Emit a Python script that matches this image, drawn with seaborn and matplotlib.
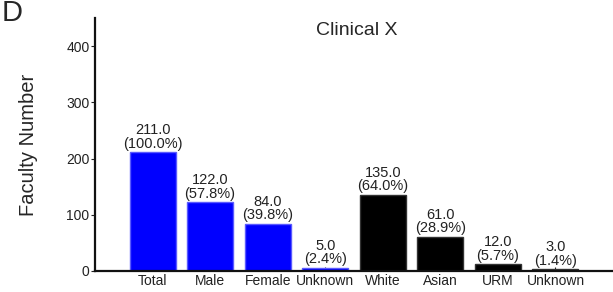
import numpy as np
import pandas as pd
import seaborn as sns
from matplotlib import pyplot as plt

categories = ['Total', 'Male', 'Female', 'Unknown', 'White', 'Asian', 'URM', 'Unknown']
counts = [211.0, 122.0, 84.0, 5.0, 135.0, 61.0, 12.0, 3.0]
percents = [100.0, 57.8, 39.8, 2.4, 64.0, 28.9, 5.7, 1.4]
groups = ['gender', 'gender', 'gender', 'gender', 'race', 'race', 'race', 'race']

df = pd.DataFrame({'pos': range(len(categories)), 'count': counts, 'group': groups})

sns.set_style('ticks')
plt.rcParams['font.family'] = ['Liberation Sans', 'DejaVu Sans']

fig = plt.figure(figsize=(6.13, 2.92), dpi=100)
ax = fig.add_axes([0.155, 0.072, 0.845, 0.866])

bar_plot = sns.barplot(data=df, x='pos', y='count', hue='group', dodge=False,
                       palette={'gender': '#0000ff', 'race': '#000000'},
                       saturation=1, width=0.8, legend=False, ax=ax, linewidth=1)
for patch, g in zip(ax.patches, groups):
    patch.set_edgecolor('#5a5aff' if g == 'gender' else '#333333')

for i, row in df.iterrows():
    ax.text(i, row['count'] + 3, f"{row['count']:.1f}\n({percents[i]:.1f}%)",
            ha='center', va='bottom', fontsize=10.5, color='#222222', linespacing=0.95)

ax.set_xlim(-1, 8)
ax.set_ylim(0, 450)
ax.set_yticks([0, 100, 200, 300, 400])
ax.set_xticks(range(len(categories)))
ax.set_xticklabels(categories)
ax.tick_params(axis='x', direction='in', length=3, pad=2, labelsize=10, colors='#222222')
ax.tick_params(axis='y', direction='out', length=3, pad=1, labelsize=10, colors='#222222')
ax.set_xlabel('')
ax.set_ylabel('Faculty Number', fontsize=14.5, labelpad=20)
for s in ['left', 'bottom']:
    ax.spines[s].set_linewidth(1.6)
    ax.spines[s].set_color('#111111')
sns.despine(ax=ax)

ax.text(3.55, 428, 'Clinical X', ha='center', va='center', fontsize=14)
fig.text(0.003, 0.955, 'D', fontsize=21, va='center')

plt.savefig('out.png', dpi=100)
